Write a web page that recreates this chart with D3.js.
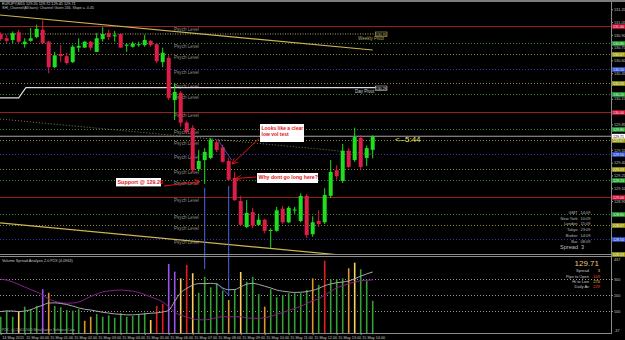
<!DOCTYPE html>
<html>
<head>
<meta charset="utf-8">
<script src="https://cdn.jsdelivr.net/npm/d3@7/dist/d3.min.js"></script>
<style>
  body { margin: 0; background: #000; }
  svg { display: block; }
  text { font-family: "Liberation Sans", Arial, sans-serif; }
</style>
</head>
<body>
<div id="chart"></div>
<script>
var width = 625, height = 340;

// EURJPY M15, 14 May 23:00 .. 15 May 14:30 (one value per bar)
var opens  = [130.91,130.86,130.84,130.93,130.79,130.83,130.875,130.96,130.82,130.52,
              130.675,130.65,130.58,130.75,130.75,130.82,130.70,130.85,130.92,130.89,
              130.91,130.78,130.76,130.785,130.78,130.83,130.79,130.58,130.63,130.135,
              130.22,129.87,129.81,129.325,129.43,129.455,129.64,129.58,129.42,129.22,
              128.95,128.645,128.82,128.67,128.73,128.60,128.60,128.86,128.70,128.84,
              128.715,129.01,128.56,128.715,128.70,129.01,129.31,129.185,129.54,129.43,
              129.69,129.455,129.55];
var highs  = [130.93,130.90,130.94,130.96,130.86,130.98,131.02,131.07,130.83,130.70,
              130.78,130.69,130.78,130.86,130.83,130.83,130.92,130.99,130.96,130.945,
              130.92,130.80,130.82,130.82,130.90,130.84,130.80,130.75,130.66,130.335,
              130.24,129.89,129.84,129.55,129.57,129.69,129.67,129.61,129.455,129.29,
              129.01,128.96,128.87,128.80,128.74,128.63,128.88,128.89,128.89,128.88,
              129.04,129.03,128.77,128.84,129.10,129.43,129.37,129.62,129.57,129.81,
              129.72,129.60,129.72];
var lows   = [130.83,130.80,130.80,130.80,130.75,130.82,130.86,130.80,130.45,130.51,
              130.58,130.55,130.57,130.70,130.75,130.72,130.70,130.82,130.84,130.82,
              130.75,130.70,130.75,130.76,130.76,130.76,130.57,130.52,130.135,129.90,
              129.82,129.74,129.29,129.30,129.15,129.44,129.525,129.40,129.185,128.95,
              128.66,128.63,128.63,128.66,128.57,128.40,128.59,128.68,128.69,128.80,
              128.70,128.515,128.53,128.645,128.68,128.985,129.20,129.16,129.34,129.41,
              129.31,129.36,129.45];
var closes = [130.85,130.83,130.92,130.82,130.82,130.86,130.97,130.80,130.52,130.66,
              130.65,130.57,130.76,130.77,130.82,130.75,130.86,130.91,130.875,130.895,
              130.75,130.785,130.80,130.79,130.84,130.78,130.59,130.69,130.16,130.23,
              129.87,129.76,129.31,129.42,129.525,129.67,129.55,129.41,129.20,128.96,
              128.67,128.81,128.66,128.73,128.60,128.61,128.84,128.70,128.87,128.85,
              129.01,128.55,128.70,128.68,129.02,129.29,129.24,129.54,129.35,129.70,
              129.35,129.57,129.71];

var volumes  = [64,102,64,96,127,111,131,236,214,131,
                123,106,102,111,39,64,81,64,73,58,
                86,64,69,81,89,44,131,144,394,346,
                304,388,336,214,314,248,273,227,169,236,
                344,283,314,206,127,236,186,200,211,211,
                211,231,304,263,414,298,298,304,367,402,
                361,289,164];
var volKinds = ['g','g','g','y','g','g','g','p','o','g',
                'g','g','g','g','o','o','g','g','g','g',
                'g','g','g','g','g','y','r','r','p','p',
                'y','r','y','g','g','g','g','g','o','g',
                'y','g','g','g','o','g','g','g','g','g',
                'g','g','o','g','r','g','g','g','o','y',
                'g','g','g'];
var vsaSlow  = [298,293,282,266,250,234,219,200,175,161,
                152,149,150,156,172,191,206,219,225,229,
                231,228,224,216,203,188,175,156,128,92,
                74,61,51,45,45,49,59,64,64,64,
                64,57,54,54,59,66,79,91,104,116,
                129,147,164,177,199,222,245,258,271,281,
                289,292,294];
var vsaFast  = [96,100,100,96,100,108,123,136,150,151,
                147,141,131,119,111,106,99,92,87,82,
                79,76,76,79,82,86,88,94,104,161,
                214,241,261,271,271,273,269,244,233,234,
                251,268,273,266,255,244,231,224,219,216,
                217,221,229,241,258,269,277,281,288,301,
                318,332,344];

var timeLabels = ["14 May 2015","15 May 00:00","15 May 01:00","15 May 02:00","15 May 03:00",
                  "15 May 04:00","15 May 05:00","15 May 06:00","15 May 07:00","15 May 08:00",
                  "15 May 09:00","15 May 10:00","15 May 11:00","15 May 12:00","15 May 13:00",
                  "15 May 14:00"];
// scale labels left visible (the rest sit under the level tags)
var priceTicks = [131.20,131.05,130.90,130.75,130.60,130.45,130.15,129.85,
                  129.55,129.40,129.25,129.10,128.95];
var levels     = [131.00,130.80,130.67,130.50,130.33,130.20,130.00,129.80,129.67,129.50,
                  129.33,129.20,129.00,128.80,128.67,128.50,128.33];
var levelKinds = ['r','g','y','b','y','g','r','g','y','b','y','g','r','g','y','b','y'];
var volTicks   = [300,200,100];
var volEnds    = ["437","-37"];

var lastPrice = 129.71;
var weekPivot = 130.91, dayPivot = 130.28, prevDayPivot = 130.16;
var channelUpper = [131.133, 130.722];   // at bar 0 and bar 62
var channelMid   = [129.912, 129.500];
var channelLower = [128.692, 128.280];

var infoNames = ["GMT","New York","London","Tokyo","Broker","Bar"];
var infoTimes = ["14:09","10:09","15:09","23:09","14:09","08:09"];
var statNames = ["Spread","Pips to Open","Hi to Low","Daily Av"];
var statVals  = ["3","-109","270","229"];

var levelColor = {r: "#962020", g: "#3c8c3c", y: "#8c8c28", b: "#3434b0"};
var tagColor   = {r: "#d0103a", g: "#1fa531", y: "#a3a312", b: "#2f55d6"};
var volColor   = {g: "#35a035", o: "#df962c", y: "#ffcf5e", p: "#9a55ee", r: "#e41e1e"};

var svg = d3.select("#chart").append("svg")
    .attr("width", width).attr("height", height)
    .style("background", "#000");

var x  = d3.scaleLinear().domain([0, 62]).range([0.7, 372.7]);
var y  = d3.scaleLinear().domain([128.35, 131.20]).range([252.1, 9.3]);
var yv = d3.scaleLinear().domain([-37.5, 437.5]).range([333, 257]);

svg.append("defs").append("clipPath").attr("id", "mainclip")
  .append("rect").attr("x", 0).attr("y", 2).attr("width", 611).attr("height", 252);
svg.select("defs").append("clipPath").attr("id", "volclip")
  .append("rect").attr("x", 0).attr("y", 257).attr("width", 611).attr("height", 76);

var main = svg.append("g").attr("clip-path", "url(#mainclip)");

// psych levels
main.selectAll(".lvl").data(levels).enter().append("line")
    .attr("x1", 0).attr("x2", 611)
    .attr("y1", function(d) { return Math.round(y(d)) + 0.5; })
    .attr("y2", function(d) { return Math.round(y(d)) + 0.5; })
    .attr("stroke", function(d, i) { return levelColor[levelKinds[i]]; })
    .attr("stroke-dasharray", function(d, i) { return levelKinds[i] == 'r' ? null : "1,2"; });

main.selectAll(".lvltxt").data(levels).enter().append("text")
    .attr("x", 174).attr("y", function(d) { return y(d) + 5; })
    .attr("font-size", 4.6).attr("fill", "#8e8e8e")
    .text("Psych Level");

// current price line
main.append("line").attr("x1", 0).attr("x2", 611)
    .attr("y1", y(lastPrice)).attr("y2", y(lastPrice))
    .attr("stroke", "#b8b8b8").attr("stroke-width", 0.9);

// pivots
main.append("line").attr("x1", 0).attr("x2", 387)
    .attr("y1", y(weekPivot)).attr("y2", y(weekPivot))
    .attr("stroke", "#b0a468").attr("stroke-dasharray", "1,1.5");
main.append("path")
    .attr("d", d3.line()([[0, y(prevDayPivot)], [x(3), y(prevDayPivot)], [x(4.2), y(dayPivot)], [387, y(dayPivot)]]))
    .attr("fill", "none").attr("stroke", "#dcdcdc").attr("stroke-width", 1.2);

// channel
function chanLine(p, dash, col, w) {
  main.append("line")
    .attr("x1", 0).attr("y1", y(p[0]))
    .attr("x2", x(62)).attr("y2", y(p[1]))
    .attr("stroke", col).attr("stroke-width", w)
    .attr("stroke-dasharray", dash);
}
chanLine(channelUpper, null, "#cdb554", 1.2);
chanLine(channelMid, "1,2", "#8a8a6a", 0.9);
chanLine(channelLower, null, "#cdb554", 1.2);

// candles
var bull = "#1fe01f", bear = "#dc1e46";
var bars = opens.map(function(o, i) {
  return {i: i, o: o, h: highs[i], l: lows[i], c: closes[i]};
});
var candle = main.selectAll(".candle").data(bars).enter().append("g");
candle.append("line")
    .attr("x1", function(d) { return x(d.i); }).attr("x2", function(d) { return x(d.i); })
    .attr("y1", function(d) { return y(d.h); }).attr("y2", function(d) { return y(d.l); })
    .attr("stroke", function(d) { return d.c >= d.o ? bull : bear; });
candle.append("rect")
    .attr("x", function(d) { return x(d.i) - 2; }).attr("width", 4)
    .attr("y", function(d) { return y(Math.max(d.o, d.c)); })
    .attr("height", function(d) { return Math.max(1, Math.abs(y(d.o) - y(d.c))); })
    .attr("fill", function(d) { return d.c >= d.o ? bull : bear; });

// pivot labels
main.append("text").attr("x", 358).attr("y", 40).attr("font-size", 4.5)
    .attr("fill", "#b8a860").text("Weekly Pivot");
main.append("rect").attr("x", 375.5).attr("y", 32).attr("width", 11.5).attr("height", 4.6)
    .attr("fill", "#000").attr("stroke", "#b8a860").attr("stroke-width", 0.6);
main.append("text").attr("x", 381.2).attr("y", 35.6).attr("font-size", 3.6)
    .attr("text-anchor", "middle").attr("fill", "#d8c878").text(weekPivot.toFixed(2));
main.append("text").attr("x", 355).attr("y", 92.5).attr("font-size", 4.5)
    .attr("fill", "#c8c8c8").text("Day Pivot");
main.append("rect").attr("x", 375.5).attr("y", 86).attr("width", 11.5).attr("height", 4.6)
    .attr("fill", "#000").attr("stroke", "#c8c8c8").attr("stroke-width", 0.6);
main.append("text").attr("x", 381.2).attr("y", 89.6).attr("font-size", 3.6)
    .attr("text-anchor", "middle").attr("fill", "#e0e0e0").text(dayPivot.toFixed(2));

// countdown
main.append("text").attr("x", 395).attr("y", 142).attr("font-size", 8)
    .attr("fill", "#ecec62").text("<--5:44");

// time / session info
infoNames.forEach(function(n, k) {
  main.append("text").attr("x", 577.5).attr("y", 214 + k * 5.7).attr("font-size", 4)
      .attr("text-anchor", "end").attr("fill", "#bdbdbd").text(n);
  main.append("text").attr("x", 580.5).attr("y", 214 + k * 5.7).attr("font-size", 4)
      .attr("fill", "#bdbdbd").text(infoTimes[k]);
});
main.append("text").attr("x", 560).attr("y", 248.6).attr("font-size", 5.6)
    .attr("fill", "#bdbdbd").text("Spread");
main.append("text").attr("x", 581).attr("y", 248.6).attr("font-size", 5.6)
    .attr("fill", "#bdbdbd").text("3");

// blue study lines
var blue = "#4a64e6";
svg.append("line").attr("x1", x(34)).attr("x2", x(34)).attr("y1", y(129.15) + 4).attr("y2", 269)
    .attr("stroke", blue);
svg.append("line").attr("x1", x(38)).attr("x2", x(38)).attr("y1", y(129.185) + 5).attr("y2", 296)
    .attr("stroke", blue);
main.append("line").attr("x1", x(36) + 1).attr("y1", y(129.67))
    .attr("x2", x(38) + 3).attr("y2", y(129.43))
    .attr("stroke", blue).attr("stroke-width", 0.8);

// annotations
var red = "#e01414";
function arrow(x1, y1, x2, y2) {
  var a = Math.atan2(y2 - y1, x2 - x1), L = 6, s = 0.45;
  main.append("path")
    .attr("d", "M" + x1 + "," + y1 + "L" + x2 + "," + y2 +
      "M" + (x2 - L * Math.cos(a - s)) + "," + (y2 - L * Math.sin(a - s)) + "L" + x2 + "," + y2 +
      "L" + (x2 - L * Math.cos(a + s)) + "," + (y2 - L * Math.sin(a + s)))
    .attr("fill", "none").attr("stroke", red).attr("stroke-width", 1);
}
function note(bx, by, bw, bh, lines, fs) {
  main.append("rect").attr("x", bx).attr("y", by).attr("width", bw).attr("height", bh).attr("fill", "#fff");
  lines.forEach(function(t, k) {
    main.append("text").attr("x", bx + 1.5).attr("y", by + fs + 0.6 + k * (fs + 1.3))
        .attr("font-size", fs).attr("font-weight", "bold").attr("fill", red).text(t);
  });
}
note(116, 178, 45, 8.4, ["Support @ 129.20"], 5.4);
arrow(164, 186, 200, 181.5);
note(260, 124, 44, 18, ["Looks like a clear", "low vol test"], 5);
arrow(259, 138.5, 232, 164);
note(257, 173, 61, 10, ["Why dont go long here?"], 5.2);
arrow(256, 177, 235.5, 178.5);

// header text
svg.append("rect").attr("x", 0).attr("y", 0).attr("width", width).attr("height", 2).attr("fill", "#7c7c7c");
svg.append("text").attr("x", 2).attr("y", 5.4).attr("font-size", 3.8).attr("fill", "#d0d0d0")
    .text("EURJPY,M15  129.55 129.72 129.45 129.71");
svg.append("text").attr("x", 2).attr("y", 9.2).attr("font-size", 3.6).attr("fill", "#c0c0c0")
    .text("SHI_Channel(All bars): Channel Given 246, Slope = -0.45");

// right price axis
var pAxis = svg.append("g").attr("transform", "translate(611,0)")
    .call(d3.axisRight(y).tickValues(priceTicks).tickFormat(function(d) { return d.toFixed(2); }).tickSize(2));
pAxis.select(".domain").remove();
pAxis.selectAll("line").attr("stroke", "#9a9a9a");
pAxis.selectAll("text").attr("x", 3).attr("font-size", 3.8).attr("fill", "#c4c4c4")
    .attr("font-family", "Liberation Sans, Arial, sans-serif");

// level tags
var tags = svg.selectAll(".tag").data(levels).enter().append("g")
    .attr("transform", function(d) { return "translate(612," + (Math.round(y(d)) + 0.5) + ")"; });
tags.append("rect").attr("x", 0).attr("y", -2.3).attr("width", 13).attr("height", 4.6)
    .attr("fill", function(d, i) { return tagColor[levelKinds[i]]; });
tags.append("text").attr("x", 6.5).attr("y", 1.3).attr("text-anchor", "middle")
    .attr("font-size", 3.6).attr("fill", "#f0f0f0").text(function(d) { return d.toFixed(2); });
var cur = svg.append("g").attr("transform", "translate(612," + y(lastPrice) + ")");
cur.append("rect").attr("x", 0).attr("y", -2.4).attr("width", 13).attr("height", 4.8).attr("fill", "#fff");
cur.append("text").attr("x", 6.5).attr("y", 1.3).attr("text-anchor", "middle")
    .attr("font-size", 3.6).attr("fill", "#000").text(lastPrice.toFixed(2));

// panel frame
svg.append("line").attr("x1", 611.5).attr("x2", 611.5).attr("y1", 2).attr("y2", 334).attr("stroke", "#8a8a8a");
svg.append("line").attr("x1", 0).attr("x2", 612).attr("y1", 254.5).attr("y2", 254.5).attr("stroke", "#8a8a8a");
svg.append("line").attr("x1", 0).attr("x2", 612).attr("y1", 256.5).attr("y2", 256.5).attr("stroke", "#8a8a8a");
svg.append("line").attr("x1", 0).attr("x2", 612).attr("y1", 333.5).attr("y2", 333.5).attr("stroke", "#8a8a8a");

// volume panel
var vol = svg.append("g").attr("clip-path", "url(#volclip)");
vol.selectAll(".vg").data(volTicks).enter().append("line")
    .attr("x1", 0).attr("x2", 611)
    .attr("y1", function(d) { return Math.round(yv(d)) + 0.5; })
    .attr("y2", function(d) { return Math.round(yv(d)) + 0.5; })
    .attr("stroke", "#9a9a9a").attr("stroke-dasharray", "1,2");
vol.selectAll(".vb").data(volumes).enter().append("rect")
    .attr("x", function(d, i) { return x(i) - 0.8; }).attr("width", 1.6)
    .attr("y", function(d) { return yv(d); })
    .attr("height", function(d) { return 333 - yv(d); })
    .attr("fill", function(d, i) { return volColor[volKinds[i]]; });
var vline = d3.line().x(function(d, i) { return x(i); }).y(function(d) { return yv(d); }).curve(d3.curveMonotoneX);
vol.append("path").attr("d", vline(vsaSlow)).attr("fill", "none").attr("stroke", "#8a1f8a").attr("stroke-width", 1);
vol.append("path").attr("d", vline(vsaFast)).attr("fill", "none").attr("stroke", "#a8a8a8").attr("stroke-width", 1);
vol.append("line").attr("x1", x(36)).attr("y1", yv(volumes[36]))
    .attr("x2", x(38)).attr("y2", yv(volumes[38]) - 5)
    .attr("stroke", blue).attr("stroke-width", 0.9);

svg.append("text").attr("x", 2).attr("y", 261.5).attr("font-size", 3.8).attr("fill", "#c8c8c8")
    .text("Volume Spread Analysis 2.0  P2X  (4.0963)");
svg.append("text").attr("x", 2).attr("y", 331).attr("font-size", 3.4).attr("fill", "#a8a8a8")
    .text("P2X - (c) 2001-2009 MetaQuotes Software Corp.");

var vAxis = svg.append("g").attr("transform", "translate(611,0)")
    .call(d3.axisRight(yv).tickValues(volTicks).tickSize(2));
vAxis.select(".domain").remove();
vAxis.selectAll("line").attr("stroke", "#9a9a9a");
vAxis.selectAll("text").attr("x", 3).attr("font-size", 3.8).attr("fill", "#c4c4c4")
    .attr("font-family", "Liberation Sans, Arial, sans-serif");
svg.append("text").attr("x", 614).attr("y", 261).attr("font-size", 3.8).attr("fill", "#c4c4c4").text(volEnds[0]);
svg.append("text").attr("x", 614).attr("y", 332).attr("font-size", 3.8).attr("fill", "#c4c4c4").text(volEnds[1]);

// last price stats
svg.append("text").attr("x", 599).attr("y", 266.3).attr("font-size", 8)
    .attr("text-anchor", "end").attr("fill", "#f3c07c").text(lastPrice.toFixed(2));
var statCol = ["#ffd040", "#ff4a2a", "#ffd040", "#ff4a2a"];
statNames.forEach(function(n, k) {
  var yy = 272.4 + k * 5.2;
  svg.append("text").attr("x", 589).attr("y", yy).attr("font-size", 4)
      .attr("text-anchor", "end").attr("fill", "#c8c8c8").text(n);
  svg.append("text").attr("x", 600).attr("y", yy).attr("font-size", 4)
      .attr("text-anchor", "end").attr("fill", statCol[k]).text(statVals[k]);
});

// time axis
var tAxis = svg.append("g").attr("transform", "translate(0,333)")
    .call(d3.axisBottom(x).tickValues(d3.range(0, 61, 4))
      .tickFormat(function(d, i) { return timeLabels[i]; }).tickSize(2));
tAxis.select(".domain").remove();
tAxis.selectAll("line").attr("stroke", "#9a9a9a");
tAxis.selectAll("text").attr("y", 3).attr("dy", "0.71em").attr("x", 1)
    .attr("text-anchor", "start").attr("font-size", 3.8).attr("fill", "#c4c4c4")
    .attr("font-family", "Liberation Sans, Arial, sans-serif");
</script>
</body>
</html>
